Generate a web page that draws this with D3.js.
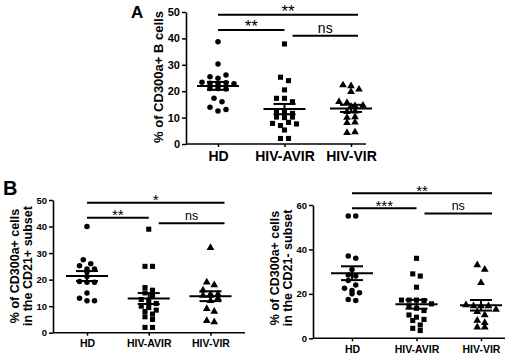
<!DOCTYPE html>
<html>
<head>
<meta charset="utf-8">
<script src="https://cdn.jsdelivr.net/npm/d3@7"></script>
<style>
  body { margin: 0; background: #fff; }
  svg { display: block; }
</style>
</head>
<body>
<svg id="chart" width="520" height="360"></svg>
<script>
var groups = ["HD", "HIV-AVIR", "HIV-VIR"];

// A: % of CD300a+ B cells
var aHD   = [38.7, 30.3, 25.5, 24.9, 26.1, 23.4, 23, 22.7, 23.2, 22.8, 21, 21, 20.8, 17.3, 16, 13.9, 12.5, 13.1];
var aAVIR = [37.9, 25.3, 24, 20.5, 17.3, 17.3, 16, 12.3, 11.9, 11.6, 10.2, 10, 10.2, 7.8, 7, 8.2, 7.6, 5.3, 2.1, 2.1];
var aVIR  = [22.3, 22, 20.7, 19.8, 16, 15.6, 14.4, 14.6, 14.2, 12.2, 12.4, 10, 10.2, 8, 8.2, 4.3, 4.5];
var aTicks = [0, 10, 20, 30, 40, 50];
var aSig = [["HD", "HIV-VIR", 49, "**"], ["HD", "HIV-AVIR", 43.2, "**"], ["HIV-AVIR", "HIV-VIR", 41, "ns"]];

// B left: CD21+ subset
var posHD   = [40, 27.5, 25.2, 26, 24, 24, 23, 21.2, 19.3, 19, 19, 15, 13, 12, 12];
var posAVIR = [39, 25, 25, 17, 16, 15, 14, 12.5, 12, 11, 10, 9.5, 8.5, 8, 7, 6, 5, 2, 2];
var posVIR  = [32, 19, 18, 16, 14.5, 14.5, 14, 14, 13, 12, 9, 8, 4.5, 4];
var posTicks = [0, 10, 20, 30, 40, 50];
var posSig = [["HD", "HIV-VIR", 49, "*"], ["HD", "HIV-AVIR", 43.3, "**"], ["HIV-AVIR", "HIV-VIR", 41.2, "ns"]];

// B right: CD21- subset
var negHD   = [55, 55, 37, 36, 31, 28.5, 28, 26, 24, 22.5, 21.5, 20.5, 20, 17.5, 17];
var negAVIR = [36, 29, 28, 23, 17.2, 17.2, 17.2, 17, 15.5, 14.5, 13.5, 12.5, 10.5, 9.5, 8.5, 8, 6, 4.5, 3.5];
var negVIR  = [33, 31, 25, 15, 14.5, 14.5, 14.5, 13, 12, 10.5, 8, 7, 5, 5];
var negTicks = [0, 20, 40, 60];
var negSig = [["HD", "HIV-VIR", 65.3, "**"], ["HD", "HIV-AVIR", 58.5, "***"], ["HIV-AVIR", "HIV-VIR", 56.2, "ns"]];

var font = "'Liberation Sans', Arial, Helvetica, sans-serif";
var shapes = [d3.symbolCircle, d3.symbolSquare, d3.symbolTriangle],
    sizes = [24, 26, 26];

var svg = d3.select("#chart");

var panels = [
  { series: [aHD, aAVIR, aVIR], ticks: aTicks, sig: aSig, yMax: 50,
    y0: 144, y1: 12, axisX: 186, axisEnd: 366, c0: 218, c2: 351,
    tickFont: 11, labelFont: 14, sigFont: 14, starFont: 17, spacing: 8,
    title: ["% of CD300a+ B cells"], titleX: [158], titleY: 77, titleFont: 13,
    endPad: 7, nsPad: 8 },
  { series: [posHD, posAVIR, posVIR], ticks: posTicks, sig: posSig, yMax: 50,
    y0: 332.7, y1: 200, axisX: 53, axisEnd: 245, c0: 87, c2: 210.5,
    tickFont: 9.5, labelFont: 10.5, sigFont: 12.5, starFont: 15, spacing: 7.5,
    title: ["% of CD300a+ cells", "in the CD21+ subset"], titleX: [15, 28], titleY: 266, titleFont: 12.5,
    endPad: 14, nsPad: 10 },
  { series: [negHD, negAVIR, negVIR], ticks: negTicks, sig: negSig, yMax: 60,
    y0: 338.3, y1: 205, axisX: 313, axisEnd: 505, c0: 352, c2: 481,
    tickFont: 9.5, labelFont: 10.5, sigFont: 12.5, starFont: 15, spacing: 7.5,
    title: ["% of CD300a+ cells", "in the CD21- subset"], titleX: [275, 288], titleY: 268, titleFont: 12.5,
    endPad: 11, nsPad: 8 }
];

// spread points that sit at nearly the same height into centred rows
function layout(vals, y, spacing) {
  var pts = vals.map((v, i) => ({ v: v, i: i, dx: 0 }));
  var rows = [], cur = null;
  pts.slice().sort((a, b) => b.v - a.v).forEach(p => {
    if (cur && y(p.v) - y(cur[0].v) < 4.5) cur.push(p);
    else { cur = [p]; rows.push(cur); }
  });
  rows.forEach(r => {
    r.sort((a, b) => a.i - b.i);
    r.forEach((p, k) => p.dx = (k - (r.length - 1) / 2) * spacing);
  });
  return pts;
}

panels.forEach(p => {
  var g = svg.append("g");
  var y = d3.scaleLinear().domain([0, p.yMax]).range([p.y0, p.y1]);
  var x = d3.scalePoint().domain(groups).range([p.c0, p.c2]);

  // x axis
  g.append("line")
      .attr("x1", p.axisX).attr("x2", p.axisEnd)
      .attr("y1", p.y0).attr("y2", p.y0)
      .attr("stroke", "#000").attr("stroke-width", 1.6);
  var xa = g.append("g")
      .attr("transform", "translate(0," + p.y0 + ")")
      .call(d3.axisBottom(x).tickSize(3).tickSizeOuter(0).tickPadding(4));
  xa.select(".domain").remove();
  xa.attr("font-family", font).attr("font-size", p.labelFont).attr("font-weight", "bold");
  xa.selectAll("line").attr("stroke-width", 1.5);

  // y axis
  var ya = g.append("g")
      .attr("transform", "translate(" + p.axisX + ",0)")
      .call(d3.axisLeft(y).tickValues(p.ticks).tickSize(4).tickSizeOuter(0).tickPadding(2));
  ya.attr("font-family", font).attr("font-size", p.tickFont).attr("font-weight", "bold");
  ya.select(".domain").attr("stroke-width", 1.6);
  ya.selectAll("line").attr("stroke-width", 1.5);

  // y title
  p.title.forEach((t, k) => {
    g.append("text")
        .attr("transform", "translate(" + p.titleX[k] + "," + p.titleY + ") rotate(-90)")
        .attr("dy", "0.35em")
        .attr("text-anchor", "middle")
        .attr("font-family", font).attr("font-size", p.titleFont).attr("font-weight", "bold")
        .text(t);
  });

  // points + mean / SEM
  p.series.forEach((vals, i) => {
    var cx = x(groups[i]);
    g.append("g").selectAll("path")
      .data(layout(vals, y, p.spacing))
      .join("path")
        .attr("transform", d => "translate(" + (cx + d.dx) + "," + y(d.v) + ")")
        .attr("d", d3.symbol(shapes[i], sizes[i]))
        .attr("fill", "#000");

    var m = d3.mean(vals), sem = d3.deviation(vals) / Math.sqrt(vals.length);
    var eb = g.append("g").attr("stroke", "#000").attr("stroke-width", 2);
    eb.append("line").attr("x1", cx - 21).attr("x2", cx + 21).attr("y1", y(m)).attr("y2", y(m));
    eb.append("line").attr("x1", cx - 11).attr("x2", cx + 11).attr("y1", y(m + sem)).attr("y2", y(m + sem));
    eb.append("line").attr("x1", cx - 11).attr("x2", cx + 11).attr("y1", y(m - sem)).attr("y2", y(m - sem));
    eb.append("line").attr("x1", cx).attr("x2", cx).attr("y1", y(m + sem)).attr("y2", y(m - sem));
  });

  // significance bars
  p.sig.forEach(s => {
    var x1 = x(s[0]) + (s[0] === groups[0] ? 0 : p.nsPad),
        x2 = x(s[1]) + (s[1] === groups[2] ? p.endPad : 0),
        yy = y(s[2]),
        ns = s[3] === "ns";
    g.append("line")
        .attr("x1", x1).attr("x2", x2).attr("y1", yy).attr("y2", yy)
        .attr("stroke", "#000").attr("stroke-width", 2);
    g.append("text")
        .attr("x", (x1 + x2) / 2)
        .attr("y", ns ? yy - 3 : yy + 2.5)
        .attr("text-anchor", "middle")
        .attr("fill", "#000")
        .attr("font-family", font).attr("font-size", ns ? p.sigFont : p.starFont)
        .text(s[3]);
  });
});

svg.append("text").attr("x", 131).attr("y", 18)
    .attr("font-family", font).attr("font-size", 17).attr("font-weight", "bold").text("A");
svg.append("text").attr("x", 3).attr("y", 195)
    .attr("font-family", font).attr("font-size", 20).attr("font-weight", "bold").text("B");
</script>
</body>
</html>
